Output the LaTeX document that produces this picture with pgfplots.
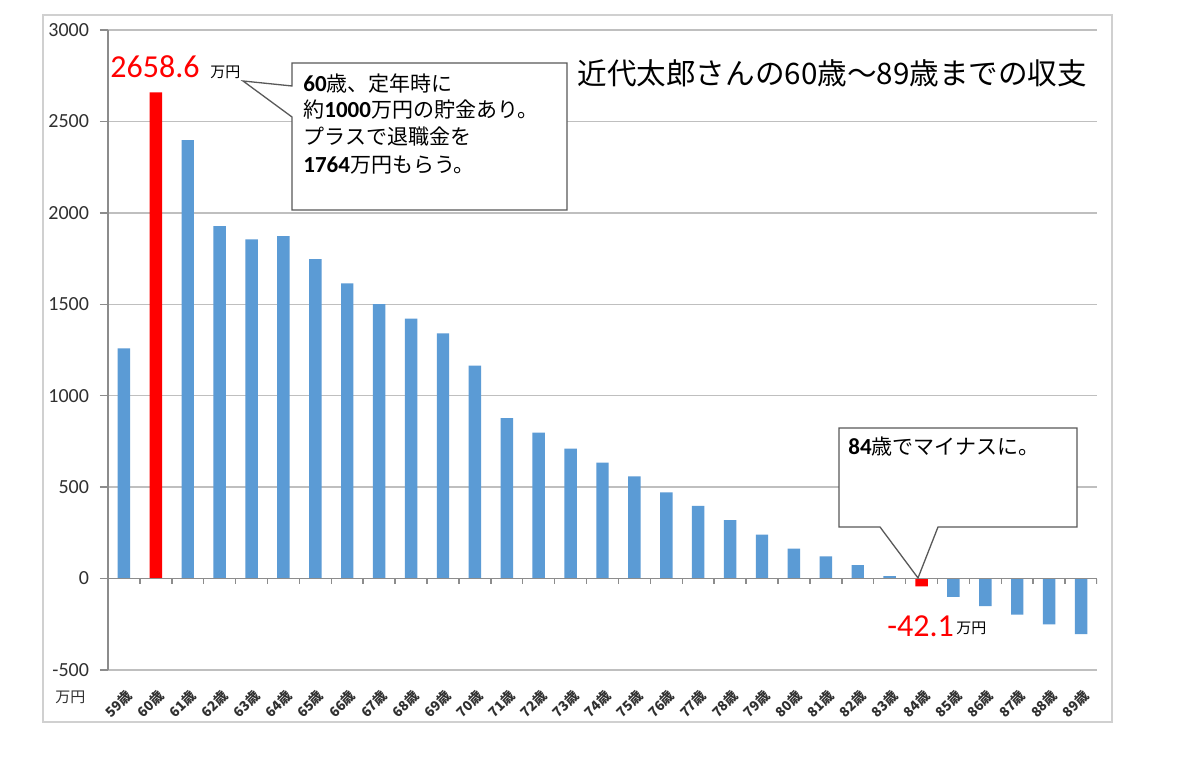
\documentclass[border=0pt]{standalone}
\usepackage{fontspec}
\usepackage{pgfplots}
\pgfplotsset{compat=1.18}
\setmainfont{Carlito}
\newfontfamily\jp{Noto Sans CJK JP}
\newfontfamily\calfont{Carlito}
\definecolor{barblue}{HTML}{5B9BD5}
\definecolor{gridgray}{HTML}{BFBFBF}
\definecolor{axisgray}{HTML}{8C8C8C}
\definecolor{framegray}{HTML}{D0D0D0}
\definecolor{txt}{HTML}{303030}
\definecolor{boxgray}{HTML}{595959}
\begin{document}
\begin{tikzpicture}
\begin{scope}[xshift=-54pt,yshift=335pt,x=0.5pt,y=-0.5pt]
\path[use as bounding box] (0,0) rectangle (1200,774);
\fill[white] (0,0) rectangle (1200,774);
\draw[framegray, line width=0.8pt] (43,15) rectangle (1112,722);
\end{scope}
\begin{axis}[
  scale only axis, width=494.5pt, height=320pt,
  xmin=-0.5, xmax=30.5, ymin=-500, ymax=3000,
  separate axis lines,
  x axis line style={draw=none},
  axis y line*=left,
  y axis line style={draw=axisgray, line width=0.75pt},
  ytick={-500,0,500,1000,1500,2000,2500,3000},
  yticklabels={-500,0,500,1000,1500,2000,2500,3000},
  yticklabel style={font=\calfont\fontsize{10}{12}\selectfont, text=txt, xshift=-2pt},
  ymajorgrids, grid style={gridgray, line width=0.75pt},
  tick align=outside, major tick length=4pt,
  ytick style={axisgray, line width=0.75pt},
  xtick={0,...,30},
  xticklabels={59歳,60歳,61歳,62歳,63歳,64歳,65歳,66歳,67歳,68歳,69歳,70歳,71歳,72歳,73歳,74歳,75歳,76歳,77歳,78歳,79歳,80歳,81歳,82歳,83歳,84歳,85歳,86歳,87歳,88歳,89歳},
  xtick style={draw=none},
  xticklabel style={font=\jp\bfseries\fontsize{6.8}{8}\selectfont, text=txt, inner sep=0pt, xshift=0.5pt, yshift=-5pt, rotate=45, anchor=north east},
]
\addplot[ybar, bar shift=0pt, bar width=0.39, fill=barblue, draw=none] coordinates {
(0,1259) (2,2398) (3,1928) (4,1855) (5,1873) (6,1747) (7,1614) (8,1501) (9,1421) (10,1341)
(11,1164) (12,878) (13,798) (14,710) (15,634) (16,559) (17,472) (18,397) (19,320) (20,240)
(21,164) (22,122) (23,73) (24,14) (26,-100) (27,-151) (28,-197) (29,-251) (30,-304)};
\addplot[ybar, bar shift=0pt, bar width=0.39, fill=red, draw=none] coordinates {(1,2658.6) (25,-42.1)};
\draw[axisgray, line width=0.75pt] (axis cs:-0.5,0) -- (axis cs:30.5,0);
\pgfplotsinvokeforeach{-0.5,0.5,...,30.5}{\draw[axisgray, line width=0.75pt] (axis cs:#1,0) -- ([yshift=-2.5pt]axis cs:#1,0);}
\end{axis}
\begin{scope}[xshift=-54pt,yshift=335pt,x=0.5pt,y=-0.5pt]
% title
\node[anchor=west, inner sep=0, font=\jp\fontsize{14.8}{16}\selectfont] at (577,73) {近代太郎さんの60歳～89歳までの収支};
% callout 1
\draw[boxgray, line width=0.65pt, fill=white] (292,63) -- (567,63) -- (567,210) -- (292,210) -- (292,117) -- (243,81) -- (292,86) -- cycle;
\begin{scope}[every node/.style={anchor=west, inner sep=0, font=\jp\fontsize{10.5}{12}\selectfont}]
\node at (303,84) {{\calfont\bfseries\fontsize{11.5}{12}\selectfont 60}歳、定年時に};
\node at (303,110) {約{\calfont\bfseries\fontsize{11.5}{12}\selectfont 1000}万円の貯金あり。};
\node at (303,137) {プラスで退職金を};
\node at (303,165) {{\calfont\bfseries\fontsize{11.5}{12}\selectfont 1764}万円もらう。};
\end{scope}
% callout 2
\draw[boxgray, line width=0.65pt, fill=white] (839,428) -- (1077,428) -- (1077,527) -- (938,527) -- (918,578) -- (880,527) -- (839,527) -- cycle;
\node at (848,447) [anchor=west, inner sep=0, font=\jp\fontsize{10.5}{12}\selectfont] {{\calfont\bfseries\fontsize{11.5}{12}\selectfont 84}歳でマイナスに。};
% value labels
\node[anchor=west, inner sep=0, text=red, font=\calfont\fontsize{16}{18}\selectfont] at (110,67) {2658.6};
\node[anchor=west, inner sep=0, font=\jp\fontsize{7.5}{9}\selectfont] at (210,72) {万円};
\node[anchor=west, inner sep=0, text=red, font=\calfont\fontsize{16}{18}\selectfont] at (887,626) {-42.1};
\node[anchor=west, inner sep=0, font=\jp\fontsize{7.5}{9}\selectfont] at (956,628) {万円};
\node[anchor=west, inner sep=0, font=\jp\fontsize{7.5}{9}\selectfont, text=txt] at (55,697) {万円};
\end{scope}
\end{tikzpicture}
\end{document}
